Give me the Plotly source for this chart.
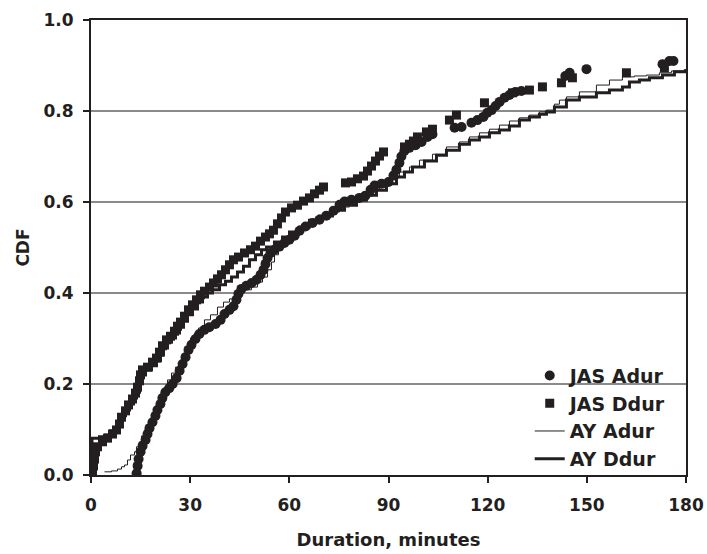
import plotly.graph_objects as go

# JAS Adur (circles)
jas_adur_x = [13.8, 14.1, 14.4, 15.0, 15.6, 16.5, 17.1, 17.7, 18.6, 19.5, 20.1, 21.0, 21.6, 22.5, 23.7, 24.7,
              25.9, 26.8, 27.7, 28.6, 29.5, 30.4, 31.6, 32.8, 34.3, 35.8, 37.7, 39.2, 40.4, 41.9, 43.1, 44.0,
              44.6, 45.5, 47.0, 48.6, 50.1, 51.3, 52.2, 52.8, 53.4, 54.3, 55.5, 57.0, 58.5, 60.0, 61.6, 63.1,
              64.9, 67.0, 69.1, 71.2, 73.4, 75.2, 76.7, 78.8, 81.2, 83.0, 84.6, 85.8, 87.9, 90.0, 91.5, 92.4,
              93.3, 93.9, 94.8, 96.3, 98.2, 100.0, 101.8, 103.3, 110.0, 112.1, 115.1, 116.9, 118.7, 119.9,
              121.2, 122.4, 123.6, 125.1, 126.6, 128.4, 130.2, 143.5, 144.8, 149.9, 172.9, 175.0, 176.2]
jas_adur_y = [0.004, 0.020, 0.035, 0.051, 0.064, 0.077, 0.090, 0.103, 0.116, 0.130, 0.143, 0.156, 0.169, 0.182,
              0.191, 0.200, 0.213, 0.229, 0.244, 0.259, 0.275, 0.286, 0.299, 0.310, 0.319, 0.325, 0.332, 0.341,
              0.354, 0.363, 0.371, 0.385, 0.398, 0.409, 0.416, 0.422, 0.429, 0.440, 0.451, 0.464, 0.477, 0.488,
              0.495, 0.502, 0.510, 0.517, 0.526, 0.537, 0.546, 0.554, 0.561, 0.570, 0.581, 0.594, 0.601, 0.605,
              0.609, 0.614, 0.627, 0.636, 0.640, 0.644, 0.658, 0.671, 0.686, 0.700, 0.712, 0.719, 0.725, 0.732,
              0.743, 0.749, 0.763, 0.765, 0.774, 0.780, 0.787, 0.796, 0.802, 0.811, 0.820, 0.829, 0.835, 0.842,
              0.844, 0.877, 0.884, 0.892, 0.903, 0.910, 0.910]

# JAS Ddur (squares)
jas_ddur_x = [0.45, 0.76, 1.06, 1.36, 1.97, 3.48, 4.99, 6.50, 7.71, 8.62, 9.23, 10.44, 11.34, 12.55, 13.46,
              14.07, 14.67, 14.97, 15.58, 17.09, 18.60, 19.81, 20.72, 21.63, 22.84, 24.05, 25.26, 26.17, 27.07,
              28.28, 29.49, 30.70, 31.91, 33.12, 34.33, 35.84, 37.05, 38.26, 39.47, 40.68, 41.89, 43.10, 44.62,
              46.43, 48.25, 49.76, 51.27, 52.78, 53.99, 55.20, 56.41, 57.62, 58.83, 60.65, 62.46, 64.28, 66.09,
              67.60, 69.12, 70.33, 76.98, 78.80, 80.61, 82.43, 83.64, 84.85, 86.06, 87.27, 88.48, 94.83, 96.34,
              97.55, 98.76, 101.48, 103.30, 108.44, 110.56, 119.03, 127.50, 132.64, 136.57, 142.32, 145.64,
              161.98, 173.47]
jas_ddur_y = [0.004, 0.020, 0.035, 0.051, 0.062, 0.073, 0.081, 0.090, 0.099, 0.112, 0.127, 0.141, 0.154, 0.167,
              0.180, 0.193, 0.207, 0.220, 0.231, 0.237, 0.248, 0.257, 0.270, 0.284, 0.297, 0.305, 0.316, 0.327,
              0.336, 0.349, 0.363, 0.374, 0.385, 0.396, 0.404, 0.413, 0.422, 0.431, 0.440, 0.451, 0.462, 0.473,
              0.479, 0.488, 0.495, 0.503, 0.514, 0.523, 0.530, 0.538, 0.552, 0.565, 0.578, 0.587, 0.593, 0.602,
              0.609, 0.618, 0.626, 0.633, 0.642, 0.644, 0.651, 0.657, 0.668, 0.679, 0.690, 0.701, 0.710, 0.721,
              0.727, 0.734, 0.743, 0.754, 0.760, 0.780, 0.791, 0.818, 0.840, 0.846, 0.853, 0.862, 0.873, 0.884,
              0.895]

# AY Adur (thin line)
ay_adur_x = [4.08, 6.20, 8.02, 9.23, 10.13, 11.04, 11.95, 13.16, 13.76, 14.67, 15.28, 16.18, 17.09, 17.70,
             19.21, 20.12, 20.72, 21.63, 22.23, 23.14, 24.35, 25.56, 26.77, 27.68, 28.59, 29.19, 30.10, 31.31,
             32.52, 34.33, 36.15, 38.26, 40.08, 41.89, 44.31, 46.43, 48.55, 50.36, 51.88, 53.39, 54.60, 55.51,
             56.72, 57.93, 60.05, 63.07, 66.09, 69.12, 72.14, 75.17, 78.19, 80.31, 82.73, 85.15, 87.27, 89.38,
             91.20, 93.31, 96.34, 99.36, 103.30, 107.53, 111.46, 114.49, 117.51, 120.54, 123.56, 126.59,
             129.61, 132.64, 135.66, 137.78, 140.20, 141.71, 143.83, 147.76, 152.90, 156.84, 160.77, 164.40,
             168.03, 171.96, 175.59, 179.8]
ay_adur_y = [0.007, 0.009, 0.013, 0.018, 0.022, 0.033, 0.044, 0.051, 0.062, 0.073, 0.086, 0.099, 0.110, 0.121,
             0.136, 0.149, 0.165, 0.180, 0.193, 0.209, 0.224, 0.237, 0.248, 0.259, 0.275, 0.286, 0.301, 0.312,
             0.323, 0.341, 0.352, 0.369, 0.380, 0.387, 0.400, 0.407, 0.413, 0.424, 0.435, 0.451, 0.468, 0.484,
             0.501, 0.516, 0.527, 0.541, 0.554, 0.567, 0.578, 0.589, 0.598, 0.604, 0.613, 0.626, 0.633, 0.642,
             0.653, 0.666, 0.677, 0.692, 0.705, 0.721, 0.732, 0.743, 0.752, 0.760, 0.769, 0.778, 0.785, 0.791,
             0.798, 0.802, 0.815, 0.824, 0.831, 0.842, 0.857, 0.868, 0.875, 0.877, 0.879, 0.884, 0.888, 0.892]

# AY Ddur (thick line)
ay_ddur_x = [0.3, 0.3, 2.57, 4.39, 5.90, 7.41, 8.32, 9.23, 10.44, 11.65, 12.86, 13.76, 14.67, 15.28, 16.49,
             18.30, 19.81, 21.02, 21.93, 23.14, 24.35, 25.56, 26.77, 27.98, 29.19, 30.70, 32.21, 33.73, 35.24,
             36.75, 38.87, 40.68, 42.50, 44.31, 46.13, 47.94, 49.76, 51.57, 53.09, 55.51, 57.93, 60.05, 63.07,
             66.09, 69.12, 73.05, 76.68, 80.31, 83.33, 86.36, 89.38, 92.41, 94.83, 97.25, 100.88, 104.51,
             107.53, 111.46, 114.49, 117.51, 120.54, 123.56, 126.59, 129.61, 132.64, 135.66, 137.78, 140.20,
             143.83, 147.76, 152.90, 156.84, 160.77, 162.89, 165.91, 168.94, 172.87, 176.50, 179.8]
ay_ddur_y = [0.0, 0.081, 0.084, 0.088, 0.097, 0.103, 0.119, 0.130, 0.143, 0.156, 0.169, 0.182, 0.202, 0.220,
             0.231, 0.240, 0.251, 0.264, 0.279, 0.292, 0.301, 0.312, 0.325, 0.338, 0.352, 0.365, 0.380, 0.391,
             0.400, 0.407, 0.418, 0.426, 0.435, 0.446, 0.459, 0.473, 0.484, 0.495, 0.501, 0.512, 0.523, 0.534,
             0.545, 0.560, 0.569, 0.582, 0.593, 0.604, 0.615, 0.626, 0.640, 0.655, 0.666, 0.677, 0.690, 0.703,
             0.714, 0.727, 0.736, 0.743, 0.752, 0.758, 0.767, 0.780, 0.787, 0.793, 0.798, 0.809, 0.824, 0.831,
             0.840, 0.846, 0.853, 0.864, 0.868, 0.873, 0.879, 0.886, 0.892]

INK = "#231f20"
FONT = "DejaVu Sans"

fig = go.Figure()
fig.add_trace(go.Scatter(x=ay_adur_x, y=ay_adur_y, mode="lines", name="AY Adur", legendrank=3,
                         line=dict(color=INK, width=1, shape="hv")))
fig.add_trace(go.Scatter(x=ay_ddur_x, y=ay_ddur_y, mode="lines", name="AY Ddur", legendrank=4,
                         line=dict(color=INK, width=3, shape="hv")))
fig.add_trace(go.Scatter(x=jas_adur_x, y=jas_adur_y, mode="markers", name="JAS Adur", legendrank=1,
                         marker=dict(symbol="circle", size=10, color=INK)))
fig.add_trace(go.Scatter(x=jas_ddur_x, y=jas_ddur_y, mode="markers", name="JAS Ddur", legendrank=2,
                         marker=dict(symbol="square", size=9, color=INK)))

axis_common = dict(
    showline=True, linecolor=INK, linewidth=2, mirror=True,
    ticks="outside", ticklen=6, tickwidth=2, tickcolor=INK,
    tickfont=dict(family=FONT, size=17, color=INK, weight="bold"),
    zeroline=False, automargin=False,
)

fig.update_layout(
    width=707, height=554,
    margin=dict(l=91, r=21, t=20, b=79),
    plot_bgcolor="white", paper_bgcolor="white",
    showlegend=True,
    legend=dict(x=0.976, y=-0.006, xanchor="right", yanchor="bottom",
                bgcolor="rgba(0,0,0,0)", borderwidth=0,
                font=dict(family=FONT, size=19, color=INK, weight="bold"),
                traceorder="normal", tracegroupgap=0, itemwidth=30),
    xaxis=dict(range=[0, 180], tickvals=[0, 30, 60, 90, 120, 150, 180], showgrid=False,
               ticklabelstandoff=8,
               title=dict(text="Duration, minutes", font=dict(family=FONT, size=18, color=INK, weight="bold"),
                          standoff=19),
               **axis_common),
    yaxis=dict(range=[0, 1], tickvals=[0, 0.2, 0.4, 0.6, 0.8, 1.0], tickformat=".1f",
               showgrid=True, gridcolor="#8a8a8a", gridwidth=1.5, ticklabelstandoff=6,
               title=dict(text="CDF", font=dict(family=FONT, size=17, color=INK, weight="bold"), standoff=10),
               **axis_common),
)

fig.write_html("out.html", config={"displayModeBar": False},
               post_script="document.body.style.margin='0';")
